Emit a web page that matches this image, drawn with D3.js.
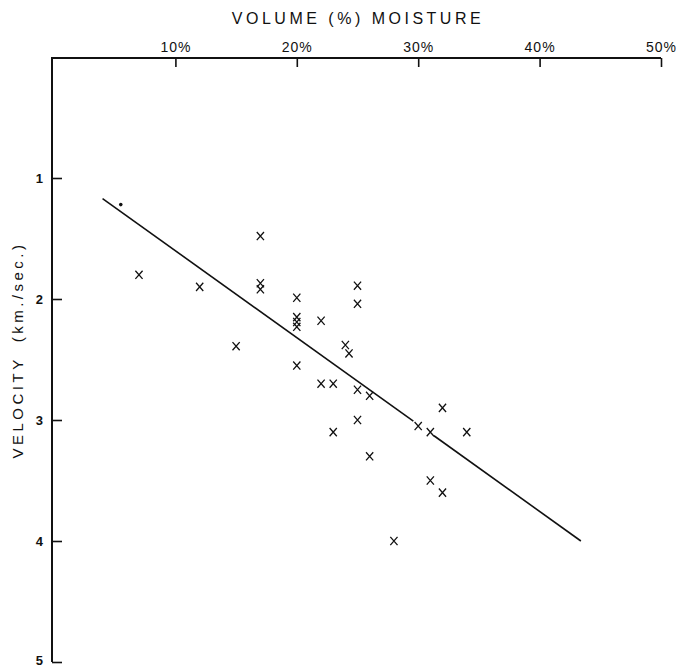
<!DOCTYPE html>
<html>
<head>
<meta charset="utf-8">
<script src="https://cdn.jsdelivr.net/npm/d3@7"></script>
<style>
  body { margin: 0; padding: 0; background: #fff; }
  svg { display: block; font-family: 'Liberation Sans', 'DejaVu Sans', sans-serif; }
  .axis path, .axis line { stroke: #111; }
  .axis text { fill: #111; }
</style>
</head>
<body>
<div id="chart"></div>
<script>
// moisture (%) and velocity (km/sec) for each sample
const moisture = [7, 12, 17, 17, 17, 20, 20, 20, 20, 22, 15, 20, 22, 23,
  25, 25, 24, 24.3, 25, 26, 25, 23, 26, 30, 31, 32, 34, 31, 32, 28]
const velocity = [1.8, 1.9, 1.48, 1.87, 1.92, 1.99, 2.15, 2.19, 2.23, 2.18, 2.39, 2.55, 2.7, 2.7,
  1.89, 2.04, 2.38, 2.45, 2.75, 2.8, 3.0, 3.1, 3.3, 3.05, 3.1, 2.9, 3.1, 3.5, 3.6, 4.0]
const dotPoint = [5.5, 1.22]
// fitted line, drawn in two pieces (gap where it passes the marks)
const fitSegments = [
  [[4.0, 1.17], [29.6, 3.01]],
  [[31.3, 3.13], [43.4, 4.0]]
]
const xTicks = [10, 20, 30, 40, 50]
const yTicks = [1, 2, 3, 4, 5]

const width = 687
const height = 667

const x = d3.scaleLinear().domain([0, 50]).range([54, 661])
const y = d3.scaleLinear().domain([0, 5]).range([57, 662])

const svg = d3.select('#chart').append('svg')
  .attr('width', width)
  .attr('height', height)

const xAxis = d3.axisTop(x)
  .tickValues(xTicks)
  .tickFormat(d => d + '%')
  .tickSizeInner(-9)
  .tickSizeOuter(0)
  .tickPadding(6)

const xg = svg.append('g')
  .attr('class', 'axis x')
  .attr('transform', 'translate(0, 58)')
  .call(xAxis)
xg.select('.domain').attr('d', 'M52,0H661').attr('stroke-width', 2)
xg.selectAll('.tick line').attr('stroke-width', 1.6)
xg.selectAll('.tick text').attr('font-size', 14).attr('letter-spacing', 1)

const yAxis = d3.axisLeft(y)
  .tickValues(yTicks)
  .tickFormat(d3.format('d'))
  .tickSizeInner(-10)
  .tickSizeOuter(0)
  .tickPadding(9)

const yg = svg.append('g')
  .attr('class', 'axis y')
  .attr('transform', 'translate(52, 0)')
  .call(yAxis)
yg.select('.domain').attr('d', `M0,57V${y(5)}`).attr('stroke-width', 2)
yg.selectAll('.tick line').attr('stroke-width', 1.6)
yg.selectAll('.tick text').attr('font-size', 13).attr('font-weight', 'bold')
  .attr('dy', d => (d === 5 ? '0.2em' : '0.32em'))

// axis titles
svg.append('text')
  .attr('x', 358)
  .attr('y', 24)
  .attr('text-anchor', 'middle')
  .attr('font-size', 16)
  .attr('letter-spacing', 3.5)
  .attr('fill', '#111')
  .text('VOLUME (%) MOISTURE')

const yTitle = svg.append('text')
  .attr('transform', 'translate(23, 350) rotate(-90)')
  .attr('text-anchor', 'middle')
  .attr('font-size', 15)
  .attr('letter-spacing', 3.5)
  .attr('fill', '#111')
yTitle.append('tspan').text('VELOCITY')
yTitle.append('tspan').attr('dx', 14).text('(km./sec.)')

// regression line
svg.append('g')
  .selectAll('line')
  .data(fitSegments)
  .enter()
  .append('line')
  .attr('x1', d => x(d[0][0]))
  .attr('y1', d => y(d[0][1]))
  .attr('x2', d => x(d[1][0]))
  .attr('y2', d => y(d[1][1]))
  .attr('stroke', '#111')
  .attr('stroke-width', 1.6)

// x marks
const pts = moisture.map((m, i) => [m, velocity[i]])
const s = 3.6
svg.append('g')
  .selectAll('path')
  .data(pts)
  .enter()
  .append('path')
  .attr('d', d => {
    const cx = x(d[0]), cy = y(d[1])
    return `M${cx - s},${cy - s - 0.5}L${cx + s},${cy + s + 0.5}M${cx + s},${cy - s - 0.5}L${cx - s},${cy + s + 0.5}`
  })
  .attr('stroke', '#111')
  .attr('stroke-width', 1.3)
  .attr('fill', 'none')

svg.append('circle')
  .attr('cx', x(dotPoint[0]))
  .attr('cy', y(dotPoint[1]))
  .attr('r', 1.8)
  .attr('fill', '#111')
</script>
</body>
</html>
